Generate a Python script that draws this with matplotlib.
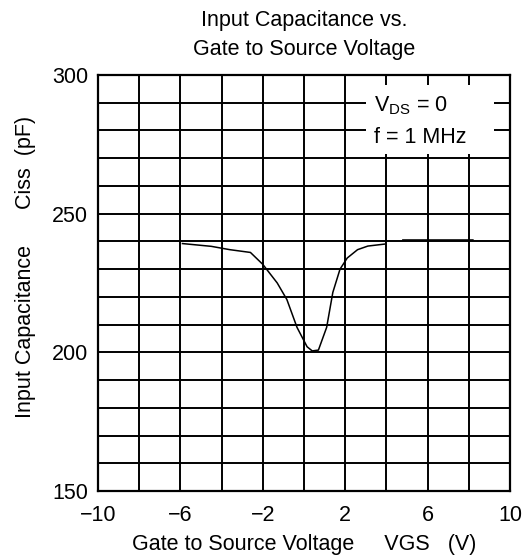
import matplotlib
matplotlib.use("Agg")
import matplotlib.pyplot as plt
from matplotlib.patches import Rectangle
import numpy as np

plt.rcParams['font.family'] = ['Liberation Sans', 'DejaVu Sans']

# curve (VGS in V, Ciss in pF), nan = gap in the trace
vgs = [-5.9, -4.5, -3.6, -2.6, -2.0, -1.3, -0.83, -0.34, 0.15, 0.4, 0.7,
       1.1, 1.4, 1.75, 2.1, 2.6, 3.1, 3.9, 4.3, 4.8, 8.2]
ciss = [239.2, 238.2, 237.0, 236.0, 231.7, 225.0, 219.0, 209.0, 202.0, 200.5, 200.8,
        209.0, 221.6, 230.0, 234.0, 237.0, 238.3, 239.0, np.nan, 240.5, 240.5]

xticks = [-10, -6, -2, 2, 6, 10]
yticks = [150, 200, 250, 300]

fs = 15.5

fig = plt.figure(figsize=(5.28, 5.57), dpi=100)
ax = fig.add_axes([0.1856, 0.1185, 0.7803, 0.747])

ax.plot(vgs, ciss, color='black', lw=1.1, zorder=2)

ax.set_xlim(-10, 10)
ax.set_ylim(150, 300)
ax.set_xticks(xticks)
ax.set_xticklabels(['\u221210', '\u22126', '\u22122', '2', '6', '10'])
ax.set_yticks(yticks)
ax.set_xticks(np.arange(-10, 11, 2), minor=True)
ax.set_yticks(np.arange(150, 301, 10), minor=True)
ax.tick_params(which='both', length=0, labelsize=fs)
ax.tick_params(axis='x', pad=10)
ax.tick_params(axis='y', pad=7)
ax.set_axisbelow(True)
ax.grid(which='both', color='black', lw=1.4)
for s in ax.spines.values():
    s.set_linewidth(1.6)

# blank patch behind the conditions note
ax.add_patch(Rectangle((3.0, 271.5), 6.2, 24.9, facecolor='white',
                       edgecolor='none', zorder=1))
ax.text(3.4, 288.8, r'V$_{\mathregular{DS}}$ = 0', fontsize=fs, va='center',
        ha='left', zorder=3)
ax.text(3.4, 277.3, 'f = 1 MHz', fontsize=fs, va='center', ha='left', zorder=3)

ax.set_title('Input Capacitance vs.\nGate to Source Voltage', fontsize=fs,
             linespacing=1.5, pad=14)
ax.set_xlabel('Gate to Source Voltage     VGS   (V)', fontsize=fs, labelpad=6)
fig.text(0.048, 0.52, 'Input Capacitance      Ciss  (pF)', rotation=90,
         fontsize=fs, ha='center', va='center')

fig.savefig('out.png', dpi=100)
